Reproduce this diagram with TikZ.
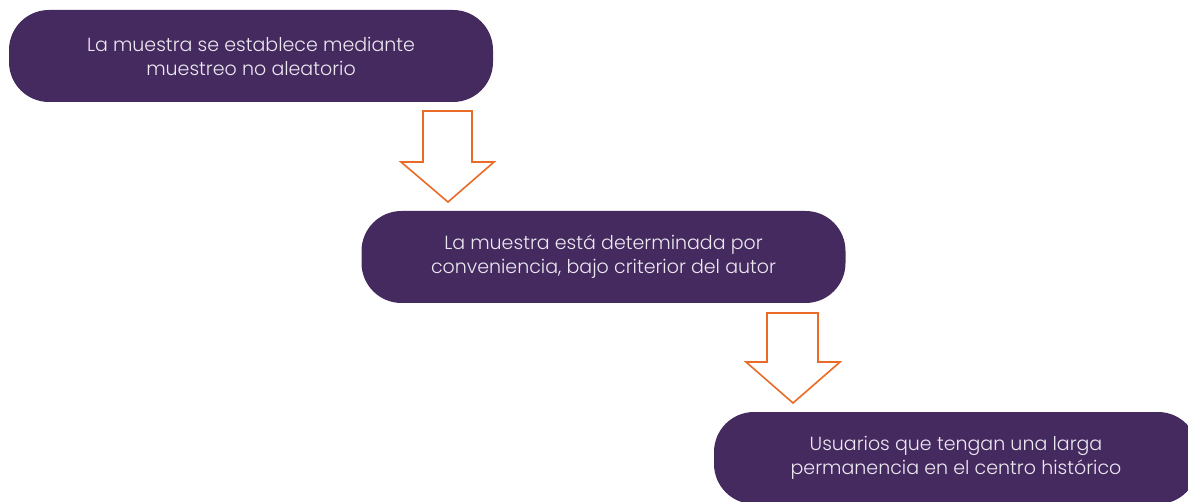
\documentclass[tikz,border=0pt]{standalone}
\usepackage{fontspec}
\setmainfont{Poppins}[UprightFont={* Light}]
\definecolor{boxfill}{HTML}{452A60}
\definecolor{boxtext}{HTML}{ECE8F0}
\definecolor{arroworange}{HTML}{E96B25}
\tikzset{
  stepbox/.style={fill=boxfill, rounded corners=40pt, minimum width=484pt, minimum height=92pt,
    inner sep=0pt, text=boxtext, align=center, font=\fontsize{19pt}{24pt}\selectfont},
  blockarrow/.style={draw=arroworange, line width=1.6pt, fill=white, line join=miter}
}
\begin{document}
\begin{tikzpicture}[x=1pt,y=-1pt]
\useasboundingbox (0,0) rectangle (1188,502);
\node[stepbox] (b1) at (251,56) {La muestra se establece mediante\\muestreo no aleatorio};
\node[stepbox] (b2) at (603.5,257) {La muestra está determinada por\\conveniencia, bajo criterior del autor};
\node[stepbox] (b3) at (956,458) {Usuarios que tengan una larga\\permanencia en el centro histórico};
% arrow 1
\draw[blockarrow] (423,111) -- (472,111) -- (472,162) -- (494,162) -- (448,202) -- (401,162) -- (423,162) -- cycle;
% arrow 2
\draw[blockarrow] (767,313) -- (818,313) -- (818,362) -- (840,362) -- (793,403) -- (746,362) -- (767,362) -- cycle;
\end{tikzpicture}
\end{document}
